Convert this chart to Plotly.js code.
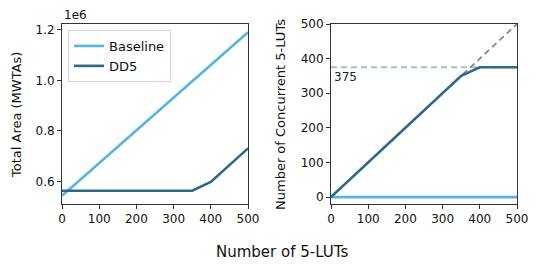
<!DOCTYPE html>
<html>
<head>
<meta charset="utf-8">
<script src="https://cdn.plot.ly/plotly-3.0.1.min.js"></script>
<style>html,body{margin:0;padding:0;background:#fff;}#chart{width:540px;height:271px;}</style>
</head>
<body>
<div id="chart"></div>
<script>
// Data
const luts = [0, 50, 100, 150, 200, 250, 300, 350, 400, 450, 500];
const baselineArea = [0.543, 0.608, 0.672, 0.737, 0.802, 0.867, 0.932, 0.996, 1.061, 1.126, 1.191];
const dd5Area = [0.563, 0.563, 0.563, 0.563, 0.563, 0.563, 0.563, 0.563, 0.598, 0.665, 0.731];
const baselineConcurrent = [0, 0, 0, 0, 0, 0, 0, 0, 0, 0, 0];
const dd5Concurrent = [0, 50, 100, 150, 200, 250, 300, 350, 375, 375, 375];
const idealX = [0, 500];
const idealY = [0, 500];
const capX = [0, 500];
const capY = [375, 375];
const capLabel = "375";
const seriesNames = ["Baseline", "DD5"];

const cBase = "#56b4e3";
const cDD5 = "#2c6a86";
const font = "DejaVu Sans, sans-serif";

const W = 540, H = 271;
const y0 = 1 - 204 / H, y1 = 1 - 24 / H;

const traces = [
  {x: luts, y: baselineArea, name: seriesNames[0], mode: "lines", line: {color: cBase, width: 2.6}, xaxis: "x", yaxis: "y"},
  {x: luts, y: dd5Area, name: seriesNames[1], mode: "lines", line: {color: cDD5, width: 2.6}, xaxis: "x", yaxis: "y"},
  {x: capX, y: capY, mode: "lines", showlegend: false, line: {color: "#a6bccb", width: 1.8, dash: "6px,4px"}, xaxis: "x2", yaxis: "y2"},
  {x: idealX, y: idealY, mode: "lines", showlegend: false, line: {color: "#888888", width: 1.8, dash: "6px,4px"}, xaxis: "x2", yaxis: "y2"},
  {x: luts, y: baselineConcurrent, mode: "lines", showlegend: false, line: {color: cBase, width: 2.6}, xaxis: "x2", yaxis: "y2"},
  {x: luts, y: dd5Concurrent, mode: "lines", showlegend: false, line: {color: cDD5, width: 2.6}, xaxis: "x2", yaxis: "y2"}
];

const axBase = {
  showline: true, mirror: true, linecolor: "#333", linewidth: 1,
  ticks: "outside", ticklen: 4, tickcolor: "#333", tickwidth: 1,
  showgrid: false, zeroline: false,
  tickfont: {family: font, size: 12, color: "#111"}
};

const layout = {
  width: W, height: H,
  margin: {l: 0, r: 0, t: 0, b: 0},
  paper_bgcolor: "#fff", plot_bgcolor: "#fff",
  font: {family: font, color: "#111"},
  showlegend: true,
  legend: {
    x: 68 / W, y: 1 - 30 / H, xanchor: "left", yanchor: "top",
    bgcolor: "rgba(255,255,255,0.8)", bordercolor: "#d5d5d5", borderwidth: 1,
    font: {family: font, size: 13, color: "#111"},
    tracegroupgap: 0, itemwidth: 30
  },
  xaxis: Object.assign({}, axBase, {domain: [62 / W, 248 / W], range: [0, 500], tickvals: [0, 100, 200, 300, 400, 500], anchor: "y"}),
  yaxis: Object.assign({}, axBase, {domain: [y0, y1], range: [0.5106, 1.2234], tickvals: [0.6, 0.8, 1.0, 1.2], ticktext: ["0.6", "0.8", "1.0", "1.2"], anchor: "x"}),
  xaxis2: Object.assign({}, axBase, {domain: [331 / W, 517 / W], range: [0, 500], tickvals: [0, 100, 200, 300, 400, 500], anchor: "y2"}),
  yaxis2: Object.assign({}, axBase, {domain: [y0, y1], range: [-20, 500], tickvals: [0, 100, 200, 300, 400, 500], anchor: "x2"}),
  annotations: [
    {text: "1e6", xref: "paper", yref: "paper", x: 62 / W, y: 1 - 15 / H, xanchor: "left", yanchor: "middle", showarrow: false, font: {family: font, size: 12, color: "#111"}},
    {text: capLabel, xref: "x2", yref: "y2", x: 2, y: 375, xanchor: "left", yanchor: "top", yshift: -1, showarrow: false, font: {family: font, size: 12, color: "#222"}},
    {text: "Total Area (MWTAs)", xref: "paper", yref: "paper", x: 16 / W, y: 1 - 115 / H, xanchor: "center", yanchor: "middle", textangle: -90, showarrow: false, font: {family: font, size: 13, color: "#111"}},
    {text: "Number of Concurrent 5-LUTs", xref: "paper", yref: "paper", x: 280 / W, y: 1 - 115 / H, xanchor: "center", yanchor: "middle", textangle: -90, showarrow: false, font: {family: font, size: 13, color: "#111"}},
    {text: "Number of 5-LUTs", xref: "paper", yref: "paper", x: 281.5 / W, y: 1 - 252 / H, xanchor: "center", yanchor: "middle", showarrow: false, font: {family: font, size: 15, color: "#111"}}
  ]
};

Plotly.newPlot("chart", traces, layout, {staticPlot: true, displayModeBar: false});
</script>
</body>
</html>
